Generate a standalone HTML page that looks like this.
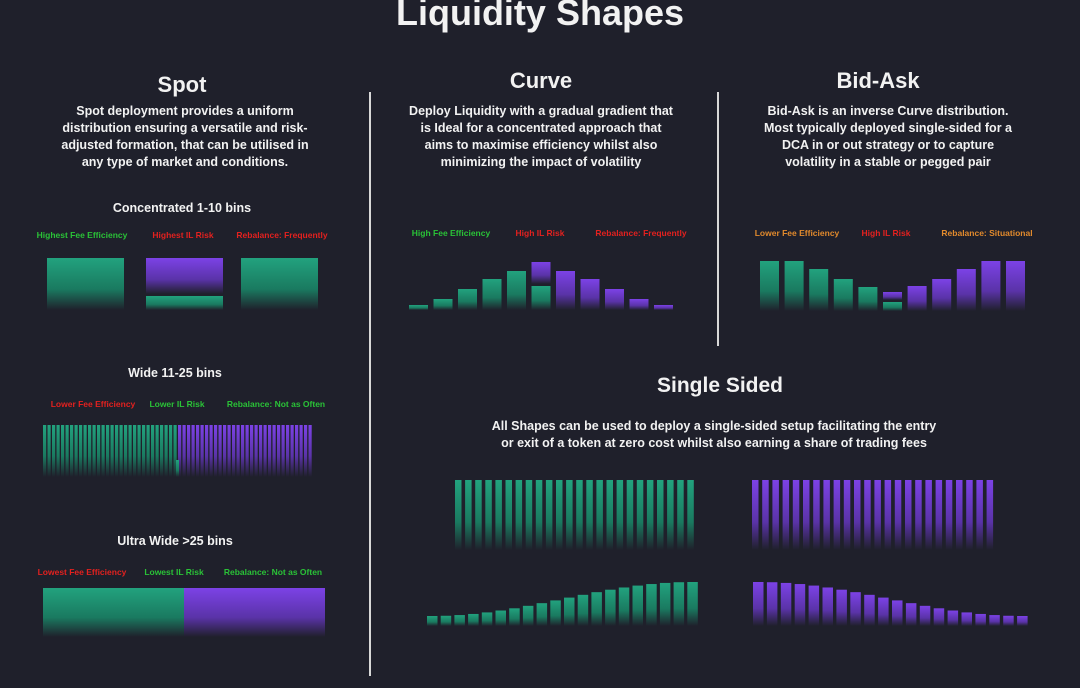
<!DOCTYPE html>
<html><head><meta charset="utf-8"><style>
html,body{margin:0;padding:0;background:#1f202b;}
svg{display:block}
text{font-family:"Liberation Sans",sans-serif;font-weight:bold;fill:#f2f2f2;text-anchor:middle}
.d{font-size:12.5px}
.l{font-size:8.5px}
.g{fill:#2ac237}.r{fill:#e3211f}.o{fill:#e28a2c}
</style></head><body>
<svg id="s" width="1080" height="688" viewBox="0 0 1080 688" xmlns="http://www.w3.org/2000/svg">
<defs>
<linearGradient id="gg" x1="0" y1="0" x2="0" y2="1"><stop offset="0" stop-color="#22a27e"/><stop offset="0.6" stop-color="#1a7a60"/><stop offset="1" stop-color="#1f202b"/></linearGradient>
<linearGradient id="pg" x1="0" y1="0" x2="0" y2="1"><stop offset="0" stop-color="#7c42e6"/><stop offset="0.6" stop-color="#5a33a8"/><stop offset="1" stop-color="#1f202b"/></linearGradient>
</defs>
<rect width="1080" height="688" fill="#1f202b"/>
<text x="540" y="25" style="font-size:36px">Liquidity Shapes</text>
<text x="182" y="92" style="font-size:22px">Spot</text>
<text x="541" y="88" style="font-size:22px">Curve</text>
<text x="878" y="88" style="font-size:22px">Bid-Ask</text>
<g class="d">
<text x="185" y="115">Spot deployment provides a uniform</text>
<text x="185" y="132">distribution ensuring a versatile and risk-</text>
<text x="185" y="149">adjusted formation, that can be utilised in</text>
<text x="185" y="166">any type of market and conditions.</text>
<text x="541" y="115">Deploy Liquidity with a gradual gradient that</text>
<text x="541" y="132">is Ideal for a concentrated approach that</text>
<text x="541" y="149">aims to maximise efficiency whilst also</text>
<text x="541" y="166">minimizing the impact of volatility</text>
<text x="888" y="115">Bid-Ask is an inverse Curve distribution.</text>
<text x="888" y="132">Most typically deployed single-sided for a</text>
<text x="888" y="149">DCA in or out strategy or to capture</text>
<text x="888" y="166">volatility in a stable or pegged pair</text>
<text x="182" y="212">Concentrated 1-10 bins</text>
<text x="175" y="377">Wide 11-25 bins</text>
<text x="175" y="545">Ultra Wide &gt;25 bins</text>
<text x="714" y="430">All Shapes can be used to deploy a single-sided setup facilitating the entry</text>
<text x="714" y="447">or exit of a token at zero cost whilst also earning a share of trading fees</text>
</g>
<text x="720" y="392" style="font-size:21px">Single Sided</text>
<g class="l">
<text x="82" y="238" class="g">Highest Fee Efficiency</text>
<text x="183" y="238" class="r">Highest IL Risk</text>
<text x="282" y="238" class="r">Rebalance: Frequently</text>
<text x="93" y="407" class="r">Lower Fee Efficiency</text>
<text x="177" y="407" class="g">Lower IL Risk</text>
<text x="276" y="407" class="g">Rebalance: Not as Often</text>
<text x="82" y="575" class="r">Lowest Fee Efficiency</text>
<text x="174" y="575" class="g">Lowest IL Risk</text>
<text x="273" y="575" class="g">Rebalance: Not as Often</text>
<text x="451" y="236" class="g">High Fee Efficiency</text>
<text x="540" y="236" class="r">High IL Risk</text>
<text x="641" y="236" class="r">Rebalance: Frequently</text>
<text x="797" y="236" class="o">Lower Fee Efficiency</text>
<text x="886" y="236" class="r">High IL Risk</text>
<text x="987" y="236" class="o">Rebalance: Situational</text>
</g>
<rect x="369" y="92" width="2" height="584" fill="#d8d8d8"/>
<rect x="717" y="92" width="2" height="254" fill="#d8d8d8"/>
<rect x="47" y="258" width="77" height="52" fill="url(#gg)"/>
<rect x="146" y="258" width="77" height="36" fill="url(#pg)"/>
<rect x="146" y="296" width="77" height="14" fill="url(#gg)"/>
<rect x="241" y="258" width="77" height="52" fill="url(#gg)"/>
<g id="bars"></g>
</svg>
<script>
var g=document.getElementById('bars'),ns='http://www.w3.org/2000/svg';
function r(x,y,w,h,c){var e=document.createElementNS(ns,'rect');e.setAttribute('x',x);e.setAttribute('y',y);e.setAttribute('width',w);e.setAttribute('height',h);e.setAttribute('fill','url(#'+c+')');g.appendChild(e);}
// wide
for(var i=0;i<60;i++){var x=43+i*4.5;r(x,425,3.2,52,x<176?'gg':'pg');}
r(176,460,3,17,'gg');
// ultra wide
for(var i=0;i<94;i++){var x=43+i*3;r(x,588,3,49,x<184?'gg':'pg');}
// curve
var ct=[305,299,289,279,271,262,271,279,289,299,305];
for(var i=0;i<11;i++){var x=409+i*24.5;if(i==5){r(x,262,19,22,'pg');r(x,286,19,24,'gg');}else r(x,ct[i],19,310-ct[i],i<5?'gg':'pg');}
// bid ask
var bt=[261,261,269,279,287,292,286,279,269,261,261];
for(var i=0;i<11;i++){var x=760+i*24.6;if(i==5){r(x,292,19,8,'pg');r(x,302,19,9,'gg');}else r(x,bt[i],19,311-bt[i],i<5?'gg':'pg');}
// single sided top
for(var i=0;i<24;i++){r(455+i*10.1,480,6.5,70,'gg');r(752+i*10.2,480,6.5,70,'pg');}
// bottom
for(var i=0;i<20;i++){var t=i/19;var h=10+34*(0.5-0.5*Math.cos(Math.PI*t));r(427+i*13.7,626-h,10.5,h,'gg');
var h2=44-34*(0.5-0.5*Math.cos(Math.PI*t));r(753+i*13.9,626-h2,10.5,h2,'pg');}
</script>
</body></html>
